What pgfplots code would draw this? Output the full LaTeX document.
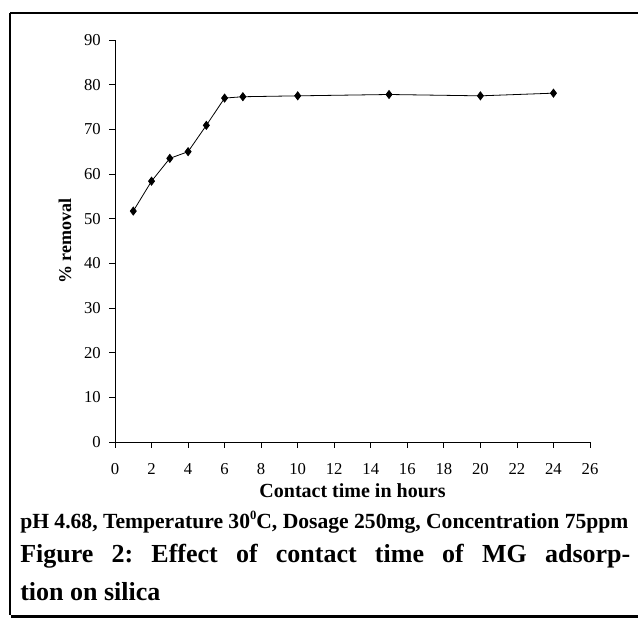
\documentclass[border=0pt]{standalone}
\usepackage{fontspec}
\setmainfont{Liberation Serif}
\usepackage{pgfplots}
\pgfplotsset{compat=1.18}
\begin{document}
\frenchspacing
\begin{tikzpicture}
\useasboundingbox (0,0) rectangle (478.5pt,463.5pt);
% frame
\draw[line width=0.8pt] (7.5pt,453.75pt) -- (478.5pt,453.75pt);
\draw[line width=0.8pt] (7.5pt,453.75pt) -- (7.5pt,2.25pt);
\draw[line width=2.25pt] (8pt,1.5pt) -- (478.5pt,1.5pt);
\begin{axis}[
  at={(86.25pt,132pt)}, anchor=origin,
  scale only axis,
  width=356.25pt, height=301.5pt,
  xmin=0, xmax=26, ymin=0, ymax=90,
  xtick={0,2,...,26}, ytick={0,10,...,90},
  axis x line*=bottom, axis y line*=left,
  tick align=outside,
  major tick length=4.2pt,
  every tick/.style={black, line width=0.6pt},
  axis line style={black, line width=0.6pt},
  /pgf/number format/assume math mode=true,
  xticklabel style={font=\fontsize{12.5}{14}\selectfont, anchor=base, yshift=-20.25pt},
  yticklabel style={font=\fontsize{12.5}{14}\selectfont, anchor=east, xshift=-3pt},
  xlabel={\textbf{Contact time in hours}},
  ylabel={\textbf{\% removal}},
  xlabel style={font=\fontsize{15}{18}\selectfont, at={(axis description cs:0.5,0)}, anchor=base, yshift=-41.8pt},
  ylabel style={font=\fontsize{13.5}{16}\selectfont, at={(axis description cs:0,0.5)}, anchor=center},
  every axis y label/.append style={yshift=37.5pt},
  clip=false,
]
\addplot[black, line width=0.6pt, mark=diamond*, mark size=3pt, mark options={fill=black}] coordinates {
(1,51.7) (2,58.4) (3,63.5) (4,65.0) (5,70.9) (6,77.0) (7,77.3) (10,77.5) (15,77.8) (20,77.5) (24,78.1)
};
\end{axis}
\node[anchor=base west, inner sep=0pt, font=\fontsize{16.2}{19}\selectfont\bfseries] at (15pt,67.5pt) {pH 4.68, Temperature 30\raisebox{0.85ex}{\fontsize{9.5}{10}\selectfont 0}C, Dosage 250mg, Concentration 75ppm};
\node[anchor=base west, inner sep=0pt, font=\fontsize{19.5}{22}\selectfont\bfseries] at (15pt,42pt) {\makebox[457.5pt][s]{Figure 2: Effect of contact time of MG adsorp-}};
\node[anchor=base west, inner sep=0pt, font=\fontsize{19.5}{22}\selectfont\bfseries] at (15pt,13.5pt) {tion on silica};
\end{tikzpicture}
\end{document}
